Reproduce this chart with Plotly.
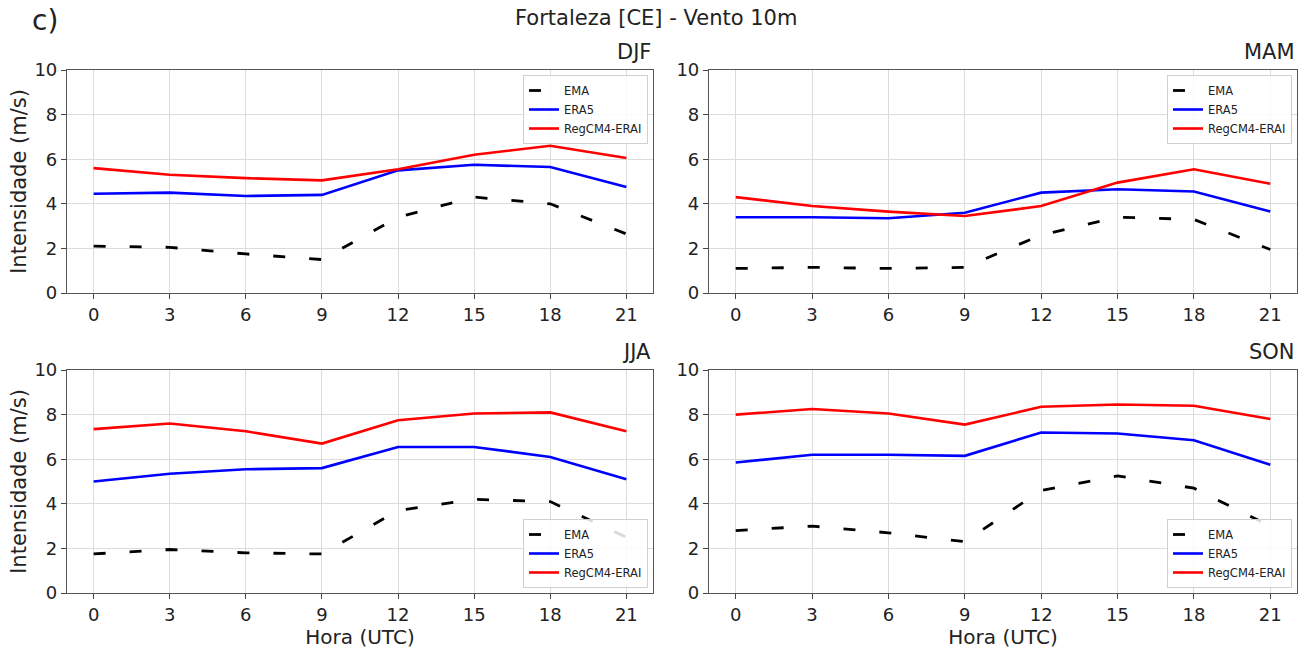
import plotly.graph_objects as go

hours = [0, 3, 6, 9, 12, 15, 18, 21]
seasons = ["DJF", "MAM", "JJA", "SON"]

ema_djf = [2.1, 2.05, 1.75, 1.5, 3.4, 4.3, 4.0, 2.65]
era5_djf = [4.45, 4.5, 4.35, 4.4, 5.5, 5.75, 5.65, 4.75]
regcm_djf = [5.6, 5.3, 5.15, 5.05, 5.55, 6.2, 6.6, 6.05]

ema_mam = [1.1, 1.15, 1.1, 1.15, 2.6, 3.4, 3.3, 1.95]
era5_mam = [3.4, 3.4, 3.35, 3.6, 4.5, 4.65, 4.55, 3.65]
regcm_mam = [4.3, 3.9, 3.65, 3.45, 3.9, 4.95, 5.55, 4.9]

ema_jja = [1.75, 1.95, 1.8, 1.75, 3.7, 4.2, 4.1, 2.5]
era5_jja = [5.0, 5.35, 5.55, 5.6, 6.55, 6.55, 6.1, 5.1]
regcm_jja = [7.35, 7.6, 7.25, 6.7, 7.75, 8.05, 8.1, 7.25]

ema_son = [2.8, 3.0, 2.7, 2.3, 4.6, 5.25, 4.7, 3.0]
era5_son = [5.85, 6.2, 6.2, 6.15, 7.2, 7.15, 6.85, 5.75]
regcm_son = [8.0, 8.25, 8.05, 7.55, 8.35, 8.45, 8.4, 7.8]

data = {
    "DJF": (ema_djf, era5_djf, regcm_djf),
    "MAM": (ema_mam, era5_mam, regcm_mam),
    "JJA": (ema_jja, era5_jja, regcm_jja),
    "SON": (ema_son, era5_son, regcm_son),
}

W, H = 1313, 653
FONT = "DejaVu Sans"
TXT = "#222222"

# panel pixel boxes (x0, x1, ytop, ybottom)
boxes = {
    "DJF": (67, 653, 70, 293),
    "MAM": (709, 1297, 70, 293),
    "JJA": (67, 653, 370, 593),
    "SON": (709, 1297, 370, 593),
}

fig = go.Figure()
layout = dict(
    width=W, height=H, autosize=False,
    margin=dict(l=0, r=0, t=0, b=0, pad=0),
    paper_bgcolor="white", plot_bgcolor="white",
    font=dict(family=FONT, color=TXT),
    showlegend=True,
)
annotations = []

for i, s in enumerate(seasons):
    n = i + 1
    xa = "x" if n == 1 else f"x{n}"
    ya = "y" if n == 1 else f"y{n}"
    lg = "legend" if n == 1 else f"legend{n}"
    x0, x1, yt, yb = boxes[s]
    ema, era5, regcm = data[s]
    fig.add_trace(go.Scatter(x=hours, y=ema, mode="lines", name="EMA",
                             line=dict(color="black", width=2.8, dash="12px,24px"),
                             xaxis=xa, yaxis=ya, legend=lg))
    fig.add_trace(go.Scatter(x=hours, y=era5, mode="lines", name="ERA5",
                             line=dict(color="blue", width=2.6),
                             xaxis=xa, yaxis=ya, legend=lg))
    fig.add_trace(go.Scatter(x=hours, y=regcm, mode="lines", name="RegCM4-ERAI",
                             line=dict(color="red", width=2.6),
                             xaxis=xa, yaxis=ya, legend=lg))
    bottom_row = s in ("JJA", "SON")
    left_col = s in ("DJF", "JJA")
    xkey = "xaxis" if n == 1 else f"xaxis{n}"
    ykey = "yaxis" if n == 1 else f"yaxis{n}"
    layout[xkey] = dict(
        domain=[x0 / W, x1 / W], anchor=ya, range=[-1.05, 22.05], automargin=False,
        tickvals=hours, ticks="outside", ticklen=5, tickcolor="#444",
        showline=True, linecolor="#555", linewidth=1.2, mirror=True,
        showgrid=True, gridcolor="#dcdcdc", gridwidth=1, zeroline=False,
        tickfont=dict(size=18, family=FONT, color=TXT),
        title=dict(text="Hora (UTC)" if bottom_row else "",
                   font=dict(size=20, family=FONT, color=TXT), standoff=0),
    )
    layout[ykey] = dict(
        domain=[1 - yb / H, 1 - yt / H], anchor=xa, range=[0, 10], automargin=False,
        tickvals=[0, 2, 4, 6, 8, 10], ticks="outside", ticklen=5, tickcolor="#444",
        showline=True, linecolor="#555", linewidth=1.2, mirror=True,
        showgrid=True, gridcolor="#dcdcdc", gridwidth=1, zeroline=False,
        tickfont=dict(size=18, family=FONT, color=TXT),
        title=dict(text="Intensidade (m/s)" if left_col else "",
                   font=dict(size=21, family=FONT, color=TXT), standoff=2),
    )
    if bottom_row:
        ly, yanchor = 1 - 588 / H, "bottom"
    else:
        ly, yanchor = 1 - 75 / H, "top"
    layout[lg] = dict(
        x=(x1 - 5) / W, y=ly, xanchor="right", yanchor=yanchor,
        bgcolor="rgba(255,255,255,0.85)", bordercolor="#d0d0d0", borderwidth=1,
        font=dict(size=11.5, family=FONT, color=TXT),
        tracegroupgap=0, itemwidth=30,
    )
    annotations.append(dict(
        text=s, x=x1 / W, y=1 - (yt - 4) / H, xref="paper", yref="paper",
        xanchor="right", yanchor="bottom", showarrow=False,
        font=dict(size=21, family=FONT, color=TXT),
    ))

annotations.append(dict(text="Fortaleza [CE] - Vento 10m", x=656 / W, y=1 - 18 / H,
                        xref="paper", yref="paper", xanchor="center", yanchor="middle",
                        showarrow=False, font=dict(size=21, family=FONT, color=TXT)))
annotations.append(dict(text="c)", x=30 / W, y=1 - 20 / H,
                        xref="paper", yref="paper", xanchor="left", yanchor="middle",
                        showarrow=False, font=dict(size=28, family=FONT, color=TXT)))
layout["annotations"] = annotations

fig.update_layout(**layout)
fig.write_html("out.html")
